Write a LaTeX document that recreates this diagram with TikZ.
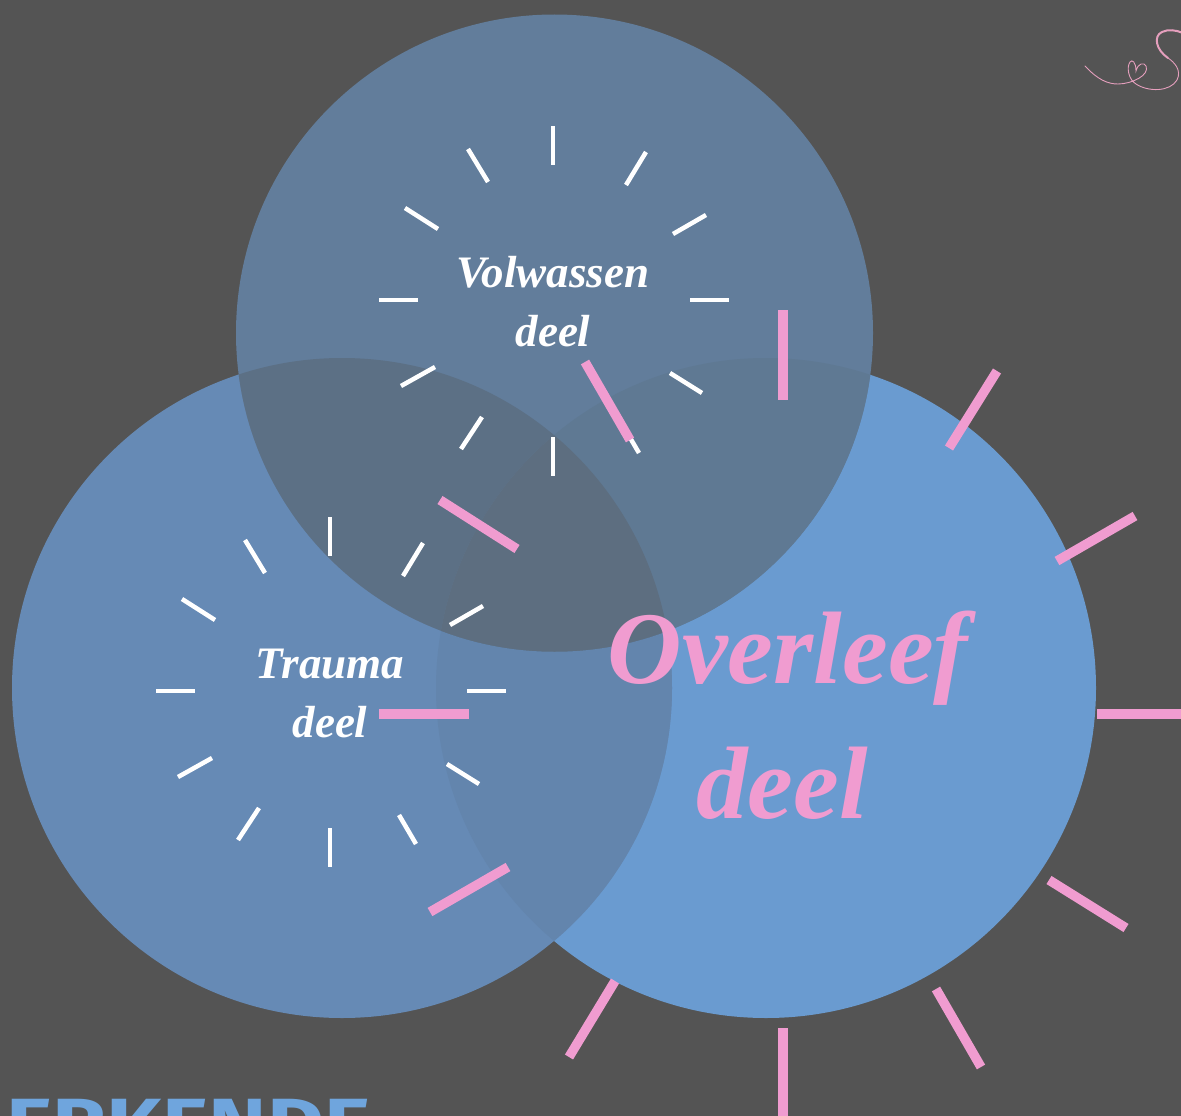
\documentclass[tikz,border=0pt]{standalone}
\usepackage{graphicx}
\usepackage{fontspec}
\newfontfamily\swash{Liberation Serif}
\newfontfamily\banner{Fira Sans}
\definecolor{bgc}{HTML}{545454}
\definecolor{rc}{HTML}{6A9BD0}
\definecolor{lc}{HTML}{668AB5}
\definecolor{lr}{HTML}{6385AD}
\definecolor{tc}{HTML}{627D9B}
\definecolor{tl}{HTML}{5C7085}
\definecolor{tr}{HTML}{5F7993}
\definecolor{tlr}{HTML}{5D6E80}
\definecolor{pinkc}{HTML}{F09CD0}
\definecolor{sigc}{HTML}{E59FBD}
\definecolor{bannerc}{HTML}{6FA5DD}
\tikzset{
  whitetick/.style={white,line width=4.5pt},
  pinktick/.style={pinkc,line width=9.5pt},
  swashlabel/.style={align=center,inner sep=0pt,anchor=base},
  smallswash/.style={swashlabel,white,font=\swash\bfseries\itshape\fontsize{45}{45}\selectfont},
  bigswash/.style={swashlabel,pinkc,font=\swash\bfseries\itshape\fontsize{103}{103}\selectfont},
}
\newcommand{\circT}{(554.5,333) circle[radius=318.5]}
\newcommand{\circL}{(342,688) circle[radius=330]}
\newcommand{\circR}{(766,688) circle[radius=330]}
\begin{document}
\begin{tikzpicture}[x=1pt,y=-1pt]
\useasboundingbox (0,0) rectangle (1181,1116);
\clip (0,0) rectangle (1181,1116);
\fill[bgc] (0,0) rectangle (1181,1116);
\fill[rc] \circR;
\fill[lc] \circL;
\begin{scope}\clip \circL; \fill[lr] \circR;\end{scope}
\fill[tc] \circT;
\begin{scope}\clip \circT; \fill[tl] \circL; \fill[tr] \circR;
  \clip \circL; \fill[tlr] \circR;\end{scope}
% white ticks
\foreach \dx/\dy in {0/0,-223/391}{
\begin{scope}[shift={(\dx,\dy)}]
\foreach \xa/\ya/\xb/\yb in {553/126/553/165,646/152/626/185,706/215/673/234,690/300/729/300,670/373/702/393,639/453/622/424,553/437/553/476,482/417/461/449,435/367/401/386,379/300/418/300,405/208/438/229,468/149/488/182}
  \draw[whitetick] (\xa,\ya) -- (\xb,\yb);
\end{scope}}
% pink ticks
\foreach \xa/\ya/\xb/\yb in {783/310/783/400,997/371/949/448,1135/516/1057/561,1097/714/1190/714,1049/880/1126/928,936/989/981/1067,783/1028/783/1125,615/981/569/1057,508/867/430/912,379/714/469/714,440/500/517/549,585/362/630/440}
  \draw[pinktick] (\xa,\ya) -- (\xb,\yb);
% labels
\node[smallswash] (vol) at (553,287) {Volwassen};
\node[smallswash] (vold) at (553,346) {deel};
\node[smallswash] (tra) at (330,678) {Trauma};
\node[smallswash] (trad) at (330,737) {deel};
\node[bigswash] (ove) at (788,683) {Overleef};
\node[bigswash] (oved) at (782,818) {deel};
% bottom banner
\node[inner sep=0pt,anchor=base west,text=bannerc,font=\banner\bfseries\fontsize{74}{74}\selectfont] (ban) at (6,1150) {\scalebox{1.19}[1]{ERKENDE}};
% signature
\draw[sigc,line width=0.9pt,line cap=round]
  (1085,66) .. controls (1098,80) and (1108,84) .. (1118,84)
  .. controls (1132,84) and (1150,75) .. (1146,66)
  .. controls (1144,62) and (1138,63) .. (1136,71)
  .. controls (1136,62) and (1132,59) .. (1130,62)
  .. controls (1126,68) and (1129,80) .. (1136,84)
  .. controls (1148,92) and (1170,92) .. (1177,80)
  .. controls (1182,70) and (1174,62) .. (1168,58);
\draw[sigc,line width=2pt,line cap=round]
  (1168,58) .. controls (1156,50) and (1153,36) .. (1162,32)
  .. controls (1168,29) and (1176,30) .. (1183,33);
\end{tikzpicture}
\end{document}
